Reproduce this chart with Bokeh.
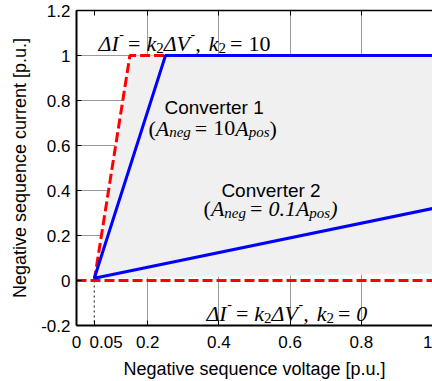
from bokeh.plotting import figure
from bokeh.models import LinearAxis, FixedTicker, Range1d
from bokeh.core.properties import value
from bokeh.embed import file_html
from bokeh.resources import INLINE

# ---- data ----
x_ticks = [0, 0.05, 0.2, 0.4, 0.6, 0.8, 1.0]
x_tick_labels = ["0", "\u00a0\u00a0\u00a0\u00a0\u00a00.05", "0.2", "0.4", "0.6", "0.8", "1"]
y_ticks = [-0.2, 0, 0.2, 0.4, 0.6, 0.8, 1.0, 1.2]
y_tick_labels = ["-0.2", "0", "0.2", "0.4", "0.6", "0.8", "1", "1.2"]
grid_x = [0.2, 0.4, 0.6, 0.8, 1.0]
grid_y = [0.2, 0.4, 0.6, 0.8, 1.0]

v_threshold = 0.05
# k2 = 10 limit (red dashed)
k10_v = [0.05, 0.15, 1.0]
k10_i = [0.0, 1.0, 1.0]
# k2 = 0 limit (red dashed)
k0_v = [0.0, 1.0]
k0_i = [0.0, 0.0]
# Converter 1 (blue)
c1_v = [0.05, 0.25, 1.0]
c1_i = [0.01, 1.0, 1.0]
# Converter 2 (blue)
c2_v = [0.05, 1.0]
c2_i = [0.01, 0.32]
# shaded operating region
area_v = [0.05, 0.15, 1.0, 1.0]
area_i = [0.01, 1.0, 1.0, 0.03]

SANS = "Liberation Sans"
SERIF = "Liberation Serif"

p = figure(width=432, height=381, output_backend="svg", toolbar_location=None,
           x_range=Range1d(0, 1.0), y_range=Range1d(-0.2, 1.2),
           min_border_left=76, min_border_right=0, min_border_top=10, min_border_bottom=56)
p.outline_line_color = None
p.background_fill_color = "white"
p.border_fill_color = "white"

# grid
p.xgrid.ticker = FixedTicker(ticks=grid_x)
p.ygrid.ticker = FixedTicker(ticks=grid_y)
for g in (p.xgrid, p.ygrid):
    g.grid_line_color = "#9a9a9a"
    g.grid_line_width = 1

# axes
def style_axis(ax, ticks, labels, show_labels=True):
    ax.ticker = FixedTicker(ticks=ticks)
    ax.major_tick_in = 5
    ax.major_tick_out = 0
    ax.minor_tick_line_color = None
    ax.axis_line_width = 2
    ax.axis_line_color = "black"
    ax.major_tick_line_color = "black"
    ax.major_label_text_font = SANS
    if show_labels:
        ax.major_label_overrides = {t: l for t, l in zip(ticks, labels)}
        ax.major_label_text_font_size = "17px"
        ax.major_label_text_color = "black"
    else:
        ax.major_label_text_font_size = "0px"
        ax.major_label_text_color = None
        ax.major_label_standoff = 0
    ax.axis_label_text_font = SANS
    ax.axis_label_text_font_size = "18px"
    ax.axis_label_text_font_style = "normal"
    ax.axis_label_text_color = "black"

style_axis(p.xaxis[0], x_ticks, x_tick_labels)
style_axis(p.yaxis[0], y_ticks, y_tick_labels)
p.xaxis[0].axis_label = "Negative sequence voltage [p.u.]"
p.yaxis[0].axis_label = "Negative sequence current [p.u.]"
p.xaxis[0].major_label_standoff = 7
p.xaxis[0].axis_label_standoff = 4
p.yaxis[0].major_label_standoff = 6
p.yaxis[0].axis_label_standoff = 8

top_axis = LinearAxis()
style_axis(top_axis, x_ticks, x_tick_labels, show_labels=False)
top_axis.axis_line_width = 1.5
p.add_layout(top_axis, "above")

# shaded region
p.patch(area_v, area_i, fill_color="#f0f0f0", line_color=None)

# threshold marker
p.line([v_threshold, v_threshold], [k0_i[0], -0.2], line_color="#444444",
       line_width=1.3, line_dash="2 3")

# limits
p.line(k10_v, k10_i, line_color="#ff0000", line_width=3, line_dash="10 4")
p.line(k0_v, k0_i, line_color="#ff0000", line_width=3, line_dash="10 4")
p.line(c1_v, c1_i, line_color="#0000ff", line_width=3)
p.line(c2_v, c2_i, line_color="#0000ff", line_width=3)

# ---- rich text helper (pieces placed side by side, no spaces inside pieces) ----
W_IT = {"Δ": .612, "I": .333, "V": .611, "k": .444, "A": .611, "n": .5, "e": .444,
        "g": .5, "p": .5, "o": .5, "s": .389, "(": .333, ")": .333, "=": .675,
        ",": .25, ".": .25, "-": .333}
W_RM = {"(": .333, ")": .333, "=": .564, ",": .25, ".": .25, "-": .333}

def width(s, size, italic):
    tab = W_IT if italic else W_RM
    return sum(tab.get(c, 0.5) for c in s) * size

BIG, SMALL, SUP = 22, 15, 14

def rich(x, y, pieces):
    off = 0.0
    for s, kind, italic, gap_before, gap_after in pieces:
        if kind == "sup":
            size, dy = SUP, -10
        elif kind == "sub":
            size, dy = SMALL, 4
        else:
            size, dy = BIG, 0
        off += gap_before
        p.text(x=[x], y=[y], text=[s], x_offset=off, y_offset=dy,
               text_font=value(SERIF), text_font_size=f"{size}px",
               text_font_style="italic" if italic else "normal",
               text_color="black", text_baseline="alphabetic", text_align="left")
        off += width(s, size, italic) + gap_after

def k_formula(k_val, k_italic):
    return [("ΔI", "n", True, 0, 0), ("-", "sup", False, 0, 0),
            ("=", "n", False, 4, 6),
            ("k", "n", True, 0, 0), ("2", "sub", False, 0, 0),
            ("ΔV", "n", True, 0, 0), ("-", "sup", False, 0, 0),
            (",", "n", True, 0, 8),
            ("k", "n", True, 0, 0), ("2", "sub", False, 0, 0),
            ("=", "n", False, 4, 6), (k_val, "n", k_italic, 0, 0)]

rich(0.062, 1.053, k_formula("10", False))
rich(0.365, -0.147, k_formula("0", True))

p.text(x=[0.247], y=[0.769], text=["Converter 1"], text_font=value(SANS),
       text_font_size="19px", text_color="black", text_baseline="alphabetic")
rich(0.202, 0.676, [("(", "n", False, 0, 0), ("A", "n", True, 0, 0),
                    ("neg", "sub", True, 0, 0), ("=", "n", False, 4, 6),
                    ("10", "n", False, 0, 0), ("A", "n", True, 0, 0),
                    ("pos", "sub", True, 0, 0), (")", "n", False, 0, 0)])

p.text(x=[0.407], y=[0.40], text=["Converter 2"], text_font=value(SANS),
       text_font_size="19px", text_color="black", text_baseline="alphabetic")
rich(0.357, 0.32, [("(", "n", False, 0, 0), ("A", "n", True, 0, 0),
                   ("neg", "sub", True, 0, 0), ("=", "n", False, 4, 6),
                   ("0.1", "n", True, 0, 0), ("A", "n", True, 0, 0),
                   ("pos", "sub", True, 0, 0), (")", "n", True, 0, 0)])

open("out.html", "w").write(file_html(p, INLINE))
